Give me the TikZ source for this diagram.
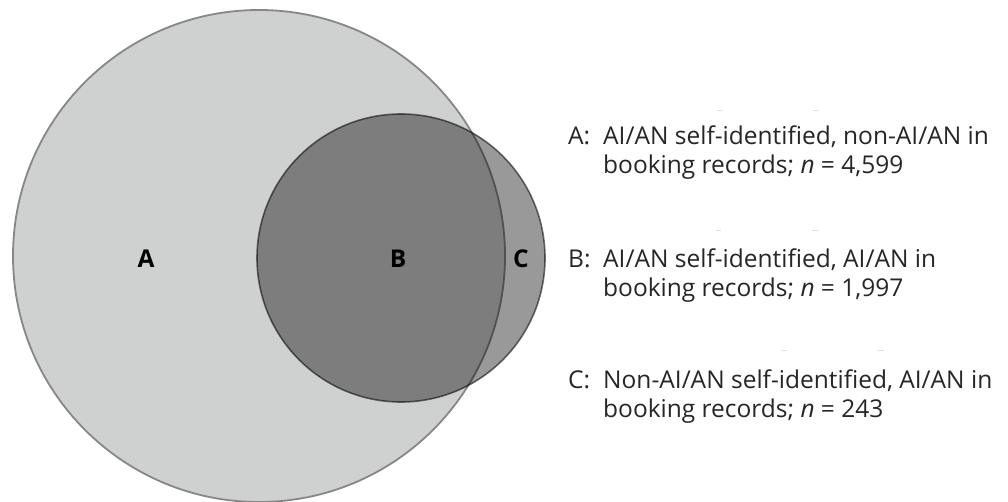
\documentclass[tikz,border=0pt]{standalone}
\usepackage{fontspec}
\setmainfont{Open Sans}
\begin{document}
\begin{tikzpicture}[x=1pt,y=-1pt,
  bigset/.style={circle,draw=black!47,line width=1.8pt,fill={rgb,255:red,207;green,209;blue,208},inner sep=0pt,minimum size=492pt},
  smallset/.style={circle,draw=black,draw opacity=0.55,line width=1.6pt,fill=black,fill opacity=0.4,inner sep=0pt,minimum size=288pt},
  setlabel/.style={font=\fontsize{24.5}{28}\selectfont\bfseries,inner sep=0pt},
  legline/.style={anchor=base west,inner sep=0pt,font=\fontsize{24.5}{28}\selectfont,text=black!85},
  artifact/.style={draw=black!12,line width=0.8pt}]
\useasboundingbox (0,0) rectangle (1008,502);
\node[bigset] (A) at (259,256) {};
\node[smallset] (BC) at (401,258) {};
\node[setlabel] (la) at (146,259) {A};
\node[setlabel] (lb) at (398,259) {B};
\node[setlabel] (lc) at (521,259) {C};
% legend
\node[legline] (ka) at (568,145) {A:};
\node[legline] (ta1) at (603,145) {AI/AN self-identified, non-AI/AN in};
\node[legline] (ta2) at (603,174) {booking records; \textit{n} = 4,599};
\node[legline] (kb) at (568,268) {B:};
\node[legline] (tb1) at (603,268) {AI/AN self-identified, AI/AN in};
\node[legline] (tb2) at (603,297) {booking records; \textit{n} = 1,997};
\node[legline] (kc) at (568,388) {C:};
\node[legline] (tc1) at (603,388) {Non-AI/AN self-identified, AI/AN in};
\node[legline] (tc2) at (603,417) {booking records; \textit{n} = 243};
% faint marks
\draw[artifact] (717,110) -- (722,110) (813,110) -- (818,110);
\draw[artifact] (716,230) -- (721,230) (812,230) -- (818,230);
\draw[artifact] (782,350) -- (787,350) (878,350) -- (884,350);
\end{tikzpicture}
\end{document}
